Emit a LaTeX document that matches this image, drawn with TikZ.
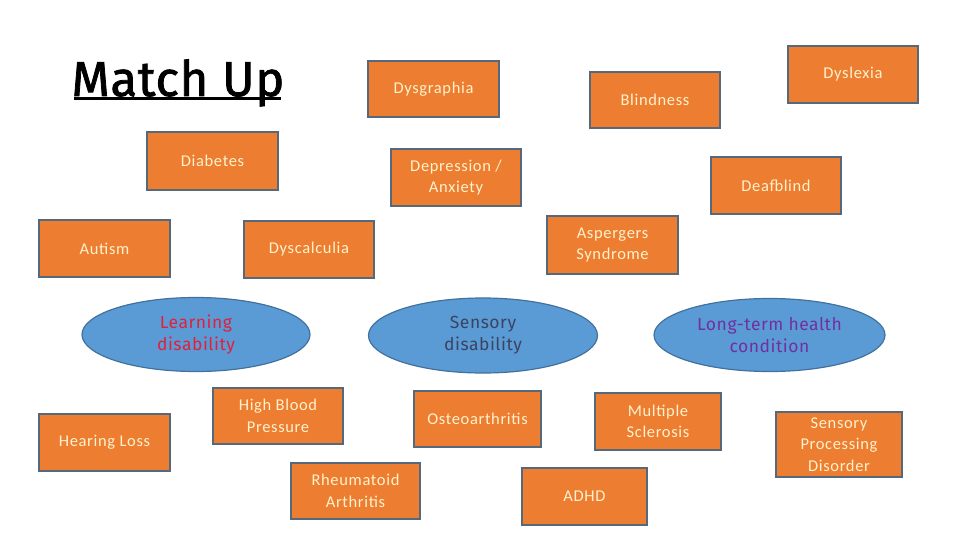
\documentclass[tikz,border=0pt]{standalone}
\usepackage{fontspec}
\setmainfont{Carlito}[LetterSpace=4]
\newfontfamily\comicfont{Fira Sans}[LetterSpace=3]
\newfontfamily\titlefont{Fira Sans}[LetterSpace=1.5,FakeBold=1.6]
\usetikzlibrary{shapes.geometric}
\definecolor{boxfill}{HTML}{ED7D31}
\definecolor{boxline}{HTML}{56687C}
\definecolor{boxtext}{HTML}{FFF2CC}
\definecolor{ellfill}{HTML}{5B9BD5}
\definecolor{ellline}{HTML}{41719C}
\definecolor{redtext}{HTML}{E0203C}
\definecolor{greytext}{HTML}{3B4360}
\definecolor{purpletext}{HTML}{7030A0}
\tikzset{
  cond/.style={draw=boxline, fill=boxfill, line width=1.6pt, text=boxtext,
    minimum width=130pt, minimum height=57pt, inner sep=0pt, align=center,
    font=\fontsize{16.5}{21.5}\selectfont},
  group/.style={ellipse, draw=ellline, fill=ellfill, line width=1.2pt,
    minimum width=229pt, minimum height=74pt, inner sep=0pt, align=center,
    font=\comicfont\fontsize{17.5}{22}\selectfont}
}
\begin{document}
\begin{tikzpicture}[x=1pt,y=-1pt]
\useasboundingbox (0,0) rectangle (960,540);
\fill[white] (0,0) rectangle (960,540);
% title
\node[anchor=base, inner sep=0pt, font=\titlefont\fontsize{49}{52}\selectfont] (title) at (178,96) {Match Up};
\draw[line width=3pt] (74,99) -- (281,99);
% boxes
\node[cond, minimum width=131pt, minimum height=56pt] (dysg) at (433.5,89) {Dysgraphia};
\node[cond, minimum height=56pt] (blind) at (655,100) {Blindness};
\node[cond] (dysl) at (853,74.5) {Dyslexia};
\node[cond, minimum width=131pt, minimum height=58pt] (diab) at (212.5,161) {Diabetes};
\node[cond] (depr) at (456,177.5) {Depression /\\Anxiety};
\node[cond] (deaf) at (776,185.5) {Deafblind};
\node[cond, minimum width=131pt] (aut) at (104.5,248.5) {Autism};
\node[cond] (dysc) at (309,249.5) {Dyscalculia};
\node[cond, minimum width=131pt, minimum height=58pt] (asp) at (612.5,245) {Aspergers\\Syndrome};
\node[cond, minimum width=131pt] (hear) at (104.5,442.5) {Hearing Loss};
\node[cond, minimum height=56pt] (hbp) at (278,416) {High Blood\\Pressure};
\node[cond, minimum width=129pt, minimum height=56pt] (rheu) at (355.5,491) {Rheumatoid\\Arthritis};
\node[cond, minimum width=127pt, minimum height=56pt] (oste) at (477.5,419) {Osteoarthritis};
\node[cond, minimum width=126pt] (ms) at (658,421.5) {Multiple\\Sclerosis};
\node[cond, minimum width=125pt] (adhd) at (584.5,496.5) {ADHD};
\node[cond, minimum width=126pt, minimum height=65pt] (spd) at (839,444.5) {Sensory\\Processing\\Disorder};
% groups
\node[group, text=redtext, minimum width=228pt] (learn) at (196,334.5) {Learning\\disability};
\node[group, text=greytext, minimum height=75pt] (sens) at (483,335.5) {Sensory\\disability};
\node[group, text=purpletext, minimum width=231pt, minimum height=73pt] (ltc) at (769.5,335) {Long-term health\\condition};
\end{tikzpicture}
\end{document}
